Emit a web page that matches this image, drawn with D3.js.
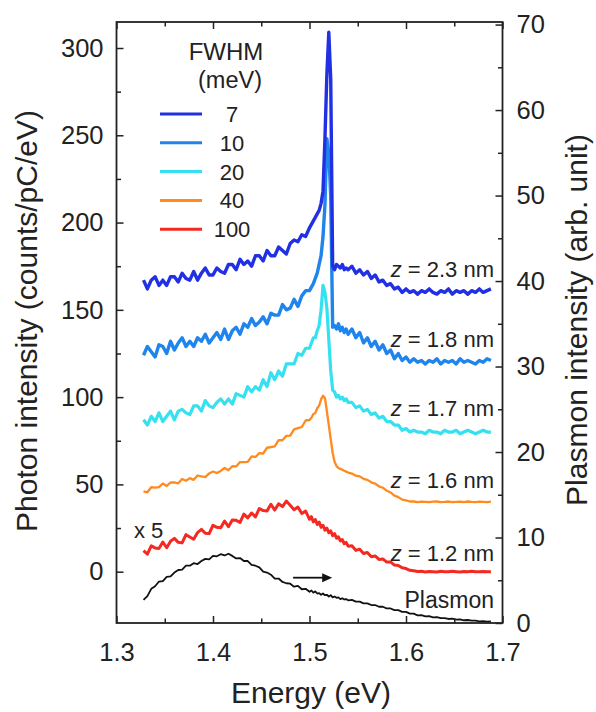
<!DOCTYPE html>
<html><head><meta charset="utf-8">
<script src="https://cdn.jsdelivr.net/npm/d3@7"></script>
<style>
html,body{margin:0;padding:0;background:#fff;}
text{font-family:"Liberation Sans",Arial,Helvetica,sans-serif;fill:#222;}
</style></head>
<body><svg id="chart" width="596" height="712"></svg>
<script>
// ---------------- data ----------------
const energies = [
1.328,1.332,1.336,1.340,1.344,1.348,1.352,1.356,1.360,1.364,
1.368,1.372,1.376,1.380,1.384,1.388,1.392,1.396,1.400,1.404,
1.408,1.412,1.416,1.420,1.424,1.428,1.432,1.436,1.440,1.444,
1.448,1.452,1.456,1.460,1.464,1.468,1.472,1.476,1.480,1.484,
1.488,1.492,1.496,1.500,
1.502,1.504,1.506,1.508,1.510,1.512,1.514,1.516,1.518,1.520,
1.522,1.524,1.526,1.528,1.530,1.532,1.534,1.536,1.538,1.540,
1.544,1.548,1.552,1.556,1.560,1.564,1.568,1.572,1.576,1.580,
1.584,1.588,1.592,1.596,1.600,1.604,1.608,1.612,1.616,1.620,
1.624,1.628,1.632,1.636,1.640,1.644,1.648,1.652,1.656,1.660,
1.664,1.668,1.672,1.676,1.680,1.684,1.688];

const fwhm7 = [
167,162,167,169,164,167,164,169,169,166,171,168,167,172,167,171,174,170,170,174,
172,171,176,176,173,179,176,178,175,181,181,178,184,181,181,186,184,182,188,190,
189,193,192,197,
199,201,203,205,207,211,218,248,285,309,282,175,173,176,175,174,176,173,174,173,
175,171,173,170,172,168,170,166,167,164,165,162,163,160,162,160,161,159,161,160,
162,160,159,161,160,162,159,161,160,161,159,161,160,162,160,161,162];

const fwhm10 = [
124,129,126,123,130,129,125,132,127,131,134,129,132,129,134,132,136,131,134,137,
133,139,133,138,140,136,142,140,145,141,143,146,142,148,147,147,153,150,151,156,
152,158,161,161,
163,165,168,171,176,181,192,210,248,240,215,140,141,139,142,138,140,137,139,136,
139,134,137,131,134,129,132,127,130,125,127,122,125,121,123,120,122,120,121,119,
121,120,122,119,121,120,121,119,122,120,121,120,119,121,120,122,121];

const fwhm20 = [
87,84,89,86,91,86,89,92,87,92,93,91,90,95,95,92,98,95,94,97,
99,96,99,96,102,101,100,106,103,106,104,110,106,114,110,115,112,119,119,119,
125,124,128,128,
131,134,134,138,141,150,164,160,151,133,115,104,103,100,101,99,100,98,99,97,
97,94,95,92,93,90,91,88,89,86,86,84,84,81,82,80,81,80,80,79,
81,80,80,79,81,80,80,81,79,80,81,80,79,80,81,80,80];

const fwhm40 = [
46,45.5,48.4,48.2,48.4,50.5,49.1,51.1,51.1,50.6,53.1,52.1,53.6,52.6,55.1,54.6,54.2,56.3,57.4,56.5,
57.7,59.4,58.1,60.4,60.3,62.8,62.8,62.9,66,65.7,67.9,67.7,71,71.4,71.8,75.3,75.3,77.8,77.9,81.5,
82.2,82.9,86.6,86.9,
88.2,90.3,90.8,93.6,95.1,98.7,100.8,99.5,92,84,76,68,63,60.5,59.4,58.9,58.4,57.8,57.3,56.8,
56.2,55.0,54.6,53.2,52.6,51.2,50.5,48.9,48.1,46.4,45.4,43.6,42.7,41.3,40.9,40.2,40.2,39.9,40.1,40.0,
39.8,40.1,40.2,39.9,40.0,40.2,39.8,40.0,40.1,39.9,40.2,40.0,39.9,40.1,40.0,39.9,40.1];

const fwhm100 = [
12,10,14.8,13.6,13.3,17,13.7,17.4,19.1,16.8,16.5,21.2,19.9,18.6,22.4,24.2,22,21.8,26.6,25.4,
25.2,29,25.8,29.6,29.4,28.2,33,30.8,33.6,31.4,36.2,35,34.8,38.6,35.3,38.9,37.3,40.4,38.1,35.5,
37,33.3,34.7,30,
31.5,28.5,29.9,27.0,28.4,25.4,26.6,23.8,25.0,22.4,23.4,20.6,21.8,19.2,20.0,17.6,18.4,16.0,16.8,14.6,
14.8,12.2,12.9,10.4,11.0,8.6,9.0,7.0,7.3,5.5,5.6,3.8,3.6,2.2,1.8,0.8,0.5,0.1,0.2,-0.2,
0.1,0.0,-0.2,0.2,0.0,-0.1,0.2,0.0,-0.2,0.1,0.0,0.2,-0.1,0.0,0.1,-0.1,0.0];

// plasmon intensity (right axis, arb. unit)
const plasmon = [
2.7,3.15,4.0,4.3,4.85,4.9,5.4,5.45,5.9,6.2,6.25,6.7,6.7,7.0,6.9,7.25,7.5,7.45,7.85,7.8,
8.05,7.9,8.1,7.85,7.55,7.6,7.25,7.25,6.8,6.7,6.5,6.0,5.9,5.65,5.2,5.2,4.8,4.65,4.6,4.25,
4.35,3.95,4.0,3.65,
3.8,3.55,3.7,3.45,3.5,3.3,3.45,3.25,3.3,3.1,3.25,3.0,3.1,2.95,3.0,2.8,2.9,2.75,2.8,2.65,
2.7,2.5,2.5,2.3,2.3,2.1,2.1,1.9,1.9,1.7,1.7,1.5,1.5,1.3,1.3,1.1,1.1,0.9,0.93,0.78,
0.8,0.66,0.68,0.56,0.58,0.47,0.5,0.4,0.42,0.32,0.35,0.27,0.28,0.2,0.22,0.15,0.18];

const legendLabels = ["7","10","20","40","100"];
const seriesColors = ["#2230e4","#1f84ec","#35e0f0","#ff8a1e","#f42a22"];
const seriesData = [fwhm7, fwhm10, fwhm20, fwhm40, fwhm100];
const distLabels = ["2.3","1.8","1.7","1.6","1.2"];
const distLabelY = [169,129,89,48,6];    // label baseline (left-axis units)
const xTicks = [1.3,1.4,1.5,1.6,1.7];
const xMinor = [1.35,1.45,1.55,1.65];
const yLeftTicks = [0,50,100,150,200,250,300];
const yLeftMinor = [25,75,125,175,225,275];
const yRightTicks = [0,10,20,30,40,50,60,70];
const yRightMinor = [5,15,25,35,45,55,65];

// ---------------- layout ----------------
const svg = d3.select("#chart");
const L = 116.5, R = 502.5, T = 22, B = 623;
const x = d3.scaleLinear().domain([1.3,1.7]).range([L,R]);
const yL = d3.scaleLinear().domain([-29.4,314.9]).range([B,T]);
const yR = d3.scaleLinear().domain([0,70.3]).range([B,T]);
const ink = "#222";

// curves
const lineL = d3.line().x((d,i)=>x(energies[i])).y(d=>yL(d));
const lineR = d3.line().x((d,i)=>x(energies[i])).y(d=>yR(d));
svg.append("path").attr("d", lineR(plasmon)).attr("fill","none")
   .attr("stroke","#111").attr("stroke-width",1.8).attr("stroke-linejoin","round");
const widths = [3.4,3.4,3.2,2.3,3.0];
for (let s = seriesData.length-1; s >= 0; s--) {
  svg.append("path").attr("d", lineL(seriesData[s])).attr("fill","none")
     .attr("stroke", seriesColors[s]).attr("stroke-width", widths[s]).attr("stroke-linejoin","round");
}

// axes (ticks inward)
function axis(gen, tr, major, minor, fmt, showLabels) {
  const g = svg.append("g").attr("transform", tr);
  g.call(gen.tickValues(major).tickSizeInner(-7).tickSizeOuter(0).tickFormat(showLabels ? fmt : ""));
  const g2 = svg.append("g").attr("transform", tr);
  g2.call(gen.tickValues(minor).tickSizeInner(-4.5).tickSizeOuter(0).tickFormat(""));
  [g,g2].forEach(gg=>{
    gg.select(".domain").remove();
    gg.selectAll("line").attr("stroke",ink).attr("stroke-width",1.5);
    gg.selectAll("text").attr("font-size","25.5px").attr("fill","#222")
      .attr("font-family",'"Liberation Sans",Arial,sans-serif');
  });
  return g;
}
const fx = d3.format(".1f");
const gb = axis(d3.axisBottom(x), `translate(0,${B})`, xTicks, xMinor, fx, true);
gb.selectAll("text").attr("dy","1.1em").attr("y",10);
axis(d3.axisTop(x), `translate(0,${T})`, xTicks, xMinor, fx, false);
const gl = axis(d3.axisLeft(yL), `translate(${L},0)`, yLeftTicks, yLeftMinor, d3.format("d"), true);
gl.selectAll("text").attr("x",-13);
const gr = axis(d3.axisRight(yR), `translate(${R},0)`, yRightTicks, yRightMinor, d3.format("d"), true);
gr.selectAll("text").attr("x",14);

// frame
svg.append("rect").attr("x",L).attr("y",T).attr("width",R-L).attr("height",B-T)
   .attr("fill","none").attr("stroke",ink).attr("stroke-width",1.8);

// axis titles
svg.append("text").attr("x",311).attr("y",703).attr("text-anchor","middle")
   .attr("font-size","30px").text("Energy (eV)");
svg.append("text").attr("transform","translate(37,321) rotate(-90)").attr("text-anchor","middle")
   .attr("font-size","30px").text("Photon intensity (counts/pC/eV)");
svg.append("text").attr("transform","translate(587,320) rotate(-90)").attr("text-anchor","middle")
   .attr("font-size","30px").text("Plasmon intensity (arb. unit)");

// legend
svg.append("text").attr("x",226).attr("y",60).attr("text-anchor","middle").attr("font-size","24px").text("FWHM");
svg.append("text").attr("x",230).attr("y",88).attr("text-anchor","middle").attr("font-size","23.5px").text("(meV)");
legendLabels.forEach((lab,i)=>{
  const yy = 114 + i*28.8;
  svg.append("line").attr("x1",160).attr("x2",202).attr("y1",yy).attr("y2",yy)
     .attr("stroke",seriesColors[i]).attr("stroke-width",3);
  svg.append("text").attr("x",232).attr("y",yy+8).attr("text-anchor","middle")
     .attr("font-size","22px").text(lab);
});

// distance labels
distLabels.forEach((d,i)=>{
  const t = svg.append("text").attr("x",494).attr("y",yL(distLabelY[i]))
     .attr("text-anchor","end").attr("font-size","22px");
  t.append("tspan").attr("font-style","italic").text("z");
  t.append("tspan").text(" = " + d + " nm");
});
svg.append("text").attr("x",494).attr("y",608).attr("text-anchor","end").attr("font-size","23px").text("Plasmon");
svg.append("text").attr("x",134).attr("y",538).attr("font-size","22px").text("x 5");

// arrow to right axis
const ay = yR(5.3), ax1 = x(1.483), ax2 = x(1.5235);
svg.append("line").attr("x1",ax1).attr("x2",ax2-8).attr("y1",ay).attr("y2",ay)
   .attr("stroke","#111").attr("stroke-width",1.8);
svg.append("path").attr("d",`M${ax2},${ay} L${ax2-10},${ay-4.5} L${ax2-10},${ay+4.5} Z`).attr("fill","#111");
</script></body></html>
